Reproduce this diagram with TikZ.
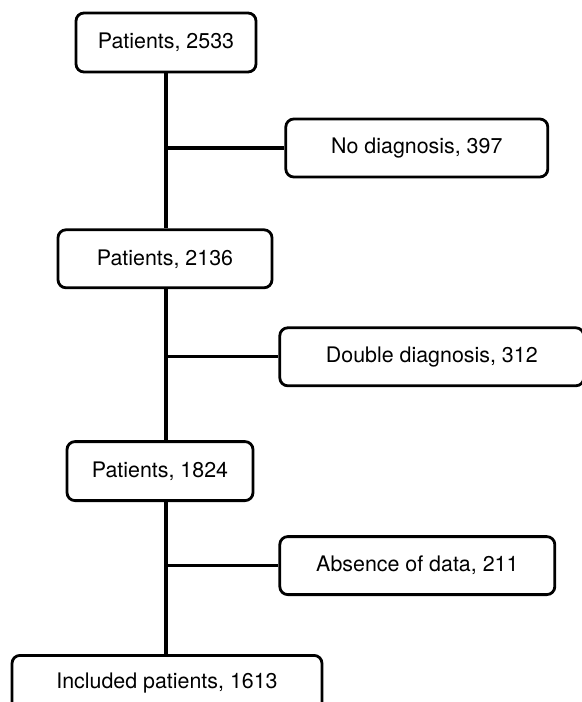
\documentclass[tikz,border=0pt]{standalone}
\usepackage{fontspec}
\setmainfont{TeX Gyre Heros}
\usetikzlibrary{positioning}

\begin{document}
\begin{tikzpicture}[x=0.5pt, y=-0.5pt, node distance={75pt},
		main/.style = {draw, line width=1.4pt, rounded corners=4pt, fill=white, inner sep=0pt, minimum height=29.5pt, font=\fontsize{10.7}{12}\selectfont},
		link/.style = {line width=1.6pt}]
			\useasboundingbox (0,0) rectangle (582,702);
			\node[main, minimum width=90pt] (1) at (166,42.5) {Patients, 2533};
			\node[main, minimum width=107pt, minimum height=29pt] (2) [below=77.5pt of 1, xshift=-0.5pt] {Patients, 2136};
			\node[main, minimum width=93pt] (3) [below=75.5pt of 2, xshift=-2.5pt] {Patients, 1824};
			\node[main, minimum width=155pt, minimum height=28pt] (4) [below=76pt of 3, xshift=3.5pt] {Included patients, 1613};
			\node[main, minimum width=131pt, minimum height=29pt] (5) [right=13.5pt of 1, yshift=-52.75pt] {No diagnosis, 397};
			\node[main, minimum width=152pt, minimum height=29pt] (6) [right=2.5pt of 2, yshift=-49pt] {Double diagnosis, 312};
			\node[main, minimum width=137.5pt, minimum height=29pt] (7) [right=12pt of 3, yshift=-47.25pt] {Absence of data, 211};
			\draw[link] (1) -- (1 |- 2.north);
			\draw[link] (1 |- 2.south) -- (1 |- 3.north);
			\draw[link] (1 |- 3.south) -- (1 |- 4.north);
			\draw[link] (1 |- 5.west) -- (5);
			\draw[link] (1 |- 6.west) -- (6);
			\draw[link] (1 |- 7.west) -- (7);
		\end{tikzpicture}
\end{document}
